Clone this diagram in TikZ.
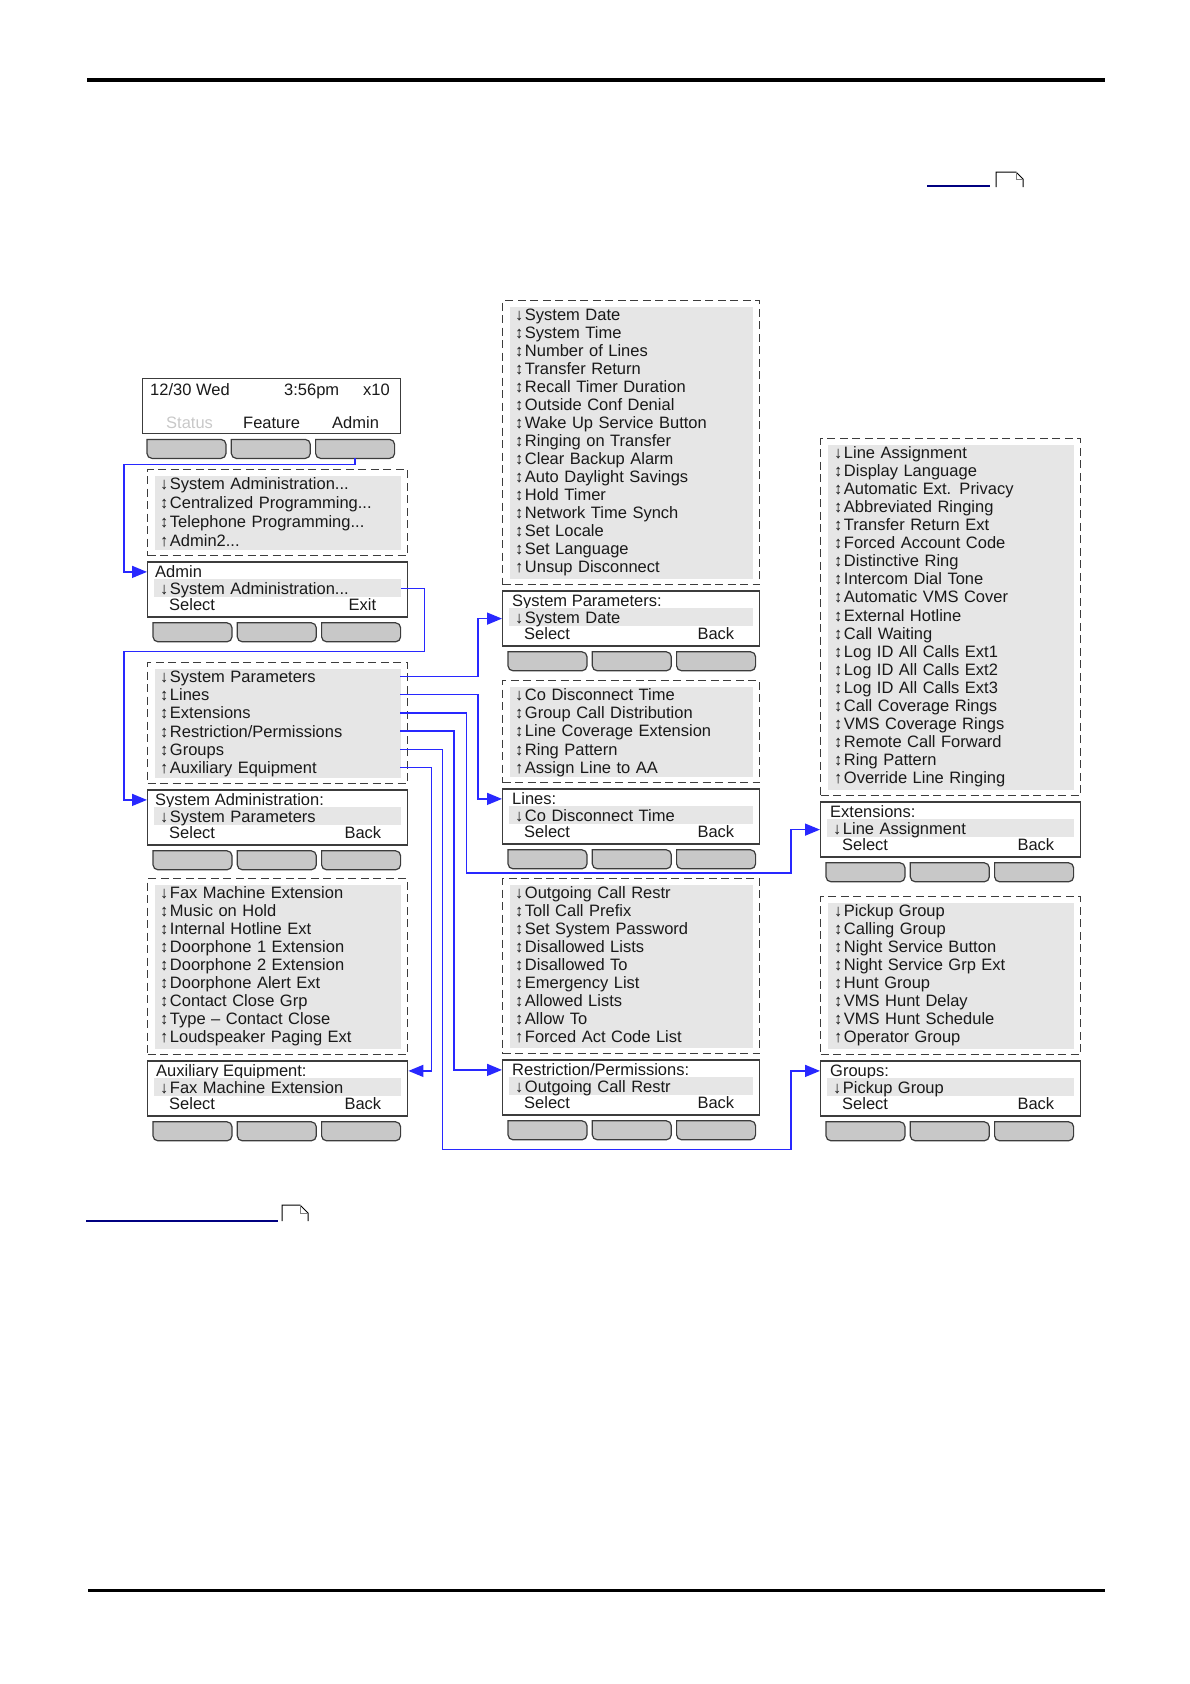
\documentclass[tikz,border=0pt]{standalone}
\usepackage{fontspec}
\setmainfont{Liberation Sans}
\usepackage{xcolor}
\usetikzlibrary{arrows.meta,positioning,calc}

\definecolor{menugray}{RGB}{230,230,230}
\definecolor{keygray}{RGB}{200,200,200}
\definecolor{framec}{RGB}{60,60,60}
\definecolor{linkblue}{RGB}{40,40,255}
\definecolor{inkc}{RGB}{25,25,25}
\definecolor{dimtext}{RGB}{200,200,200}
\definecolor{navyline}{RGB}{0,0,128}
\newcommand{\menufont}{\fontsize{16.5}{18}\selectfont}
\newcommand{\trail}{...}
\newcommand{\dn}{↓\kern1.5pt}
\newcommand{\ud}{↕\kern1.5pt}
\newcommand{\up}{↑\kern1.5pt}

\begin{document}
\begin{tikzpicture}[
    x=1pt, y=-1pt,
    menubox/.style={
        draw=framec, line width=1.4pt,
        dash pattern=on 8pt off 4.5pt,
        inner sep=0pt, anchor=north west,
        path picture={\fill[menugray]
            ([shift={(7pt,-6pt)}]path picture bounding box.north west) rectangle
            ([shift={(-7pt,6pt)}]path picture bounding box.south east);}
    },
    dispbox/.style={
        draw=framec, line width=1.4pt,
        inner sep=0pt, minimum height=55pt
    },
    rowtext/.style={
        anchor=west, inner sep=0pt,
        text height=12pt, text depth=0pt,
        text width=240pt, align=left,
        text=inkc, font=\menufont
    },
    selrow/.style={
        fill=menugray, anchor=west,
        inner xsep=6pt, inner ysep=0pt,
        minimum height=18pt,
        text height=12pt, text depth=0pt,
        text width=235pt, align=left,
        text=inkc, font=\menufont
    },
    lbl/.style={inner sep=0pt, text height=12pt, text depth=0pt, text=inkc, font=\menufont},
    softkey/.style={draw=framec, fill=keygray, line width=1.2pt},
    link/.style={draw=linkblue, line width=1.5pt, -{Triangle[length=15pt,width=12pt]}},
]
\useasboundingbox (0,0) rectangle (1190,1684);

% page rules and links
\draw[line width=3.5pt] (87,80) -- (1105,80);
\draw[line width=3pt] (88,1590) -- (1105,1590);
\draw[navyline, line width=1.2pt] (927,186) -- (990,186);
\draw[line width=1pt] (996,187) -- (996,172) -- (1016,172) -- (1023,179) -- (1023,187);
\draw[gray, line width=0.6pt] (1016,172) -- (1016,179) -- (1023,179);
\draw[navyline, line width=1.2pt] (86,1221) -- (278,1221);
\draw[line width=1pt] (282,1221) -- (282,1205) -- (300,1205) -- (308,1213) -- (308,1221);
\draw[gray, line width=0.6pt] (300,1205) -- (300,1213) -- (308,1213);

% idle phone display
\node[dispbox, minimum width=258pt, anchor=north west] (phone) at (142,378) {};
\node[lbl, anchor=west] (pdate) at ($(phone.north west)+(8,11)$) {12/30 Wed};
\node[lbl, anchor=west] (ptime) at ($(phone.north west)+(142,11)$) {3:56pm};
\node[lbl, anchor=west] (pext) at ($(phone.north west)+(221,11)$) {x10};
\node[lbl, anchor=west, text=dimtext] (pstatus) at ($(phone.north west)+(24,44)$) {Status};
\node[lbl, anchor=west] (pfeature) at ($(phone.north west)+(101,44)$) {Feature};
\node[lbl, anchor=west] (padmin) at ($(phone.north west)+(190,44)$) {Admin};

% menus
\node[menubox, minimum width=260pt, minimum height=86pt] (admmenu) at (147,469) {};
\node[menubox, minimum width=260pt, minimum height=121pt] (samenu) at (147,662) {};
\node[menubox, minimum width=260pt, minimum height=176pt] (auxmenu) at (147,878) {};
\node[menubox, minimum width=257pt, minimum height=284pt] (spmenu) at (502,300) {};
\node[menubox, minimum width=257pt, minimum height=102pt] (lnmenu) at (502,680) {};
\node[menubox, minimum width=257pt, minimum height=175pt] (rpmenu) at (502,878) {};
\node[menubox, minimum width=260pt, minimum height=357pt] (exmenu) at (820,438) {};
\node[menubox, minimum width=260pt, minimum height=158pt] (grmenu) at (820,896) {};

\foreach \t [count=\i] in {\dn System Administration\trail, \ud Centralized Programming\trail,
    \ud Telephone Programming\trail, \up Admin2\trail}
    \node[rowtext] (am-\i) at ($(admmenu.north west)+(13,{14.5+19*(\i-1)})$) {\t};
\foreach \t [count=\i] in {\dn System Parameters, \ud Lines, \ud Extensions,
    \ud Restriction/Permissions, \ud Groups, \up Auxiliary Equipment}
    \node[rowtext] (sa-\i) at ($(samenu.north west)+(13,{14.5+18.2*(\i-1)})$) {\t};
\foreach \t [count=\i] in {\dn Fax Machine Extension, \ud Music on Hold, \ud Internal Hotline Ext,
    \ud Doorphone 1 Extension, \ud Doorphone 2 Extension, \ud Doorphone Alert Ext,
    \ud Contact Close Grp, \ud Type – Contact Close, \up Loudspeaker Paging Ext}
    \node[rowtext] (ax-\i) at ($(auxmenu.north west)+(13,{14.5+18*(\i-1)})$) {\t};
\foreach \t [count=\i] in {\dn System Date, \ud System Time, \ud Number of Lines, \ud Transfer Return,
    \ud Recall Timer Duration, \ud Outside Conf Denial, \ud Wake Up Service Button,
    \ud Ringing on Transfer, \ud Clear Backup Alarm, \ud Auto Daylight Savings, \ud Hold Timer,
    \ud Network Time Synch, \ud Set Locale, \ud Set Language, \up Unsup Disconnect}
    \node[rowtext] (sp-\i) at ($(spmenu.north west)+(13,{14.5+18*(\i-1)})$) {\t};
\foreach \t [count=\i] in {\dn Co Disconnect Time, \ud Group Call Distribution,
    \ud Line Coverage Extension, \ud Ring Pattern, \up Assign Line to AA}
    \node[rowtext] (ln-\i) at ($(lnmenu.north west)+(13,{14.5+18.2*(\i-1)})$) {\t};
\foreach \t [count=\i] in {\dn Outgoing Call Restr, \ud Toll Call Prefix, \ud Set System Password,
    \ud Disallowed Lists, \ud Disallowed To, \ud Emergency List, \ud Allowed Lists, \ud Allow To,
    \up Forced Act Code List}
    \node[rowtext] (rp-\i) at ($(rpmenu.north west)+(13,{14.5+18*(\i-1)})$) {\t};
\foreach \t [count=\i] in {\dn Line Assignment, \ud Display Language, \ud Automatic Ext. Privacy,
    \ud Abbreviated Ringing, \ud Transfer Return Ext, \ud Forced Account Code, \ud Distinctive Ring,
    \ud Intercom Dial Tone, \ud Automatic VMS Cover, \ud External Hotline, \ud Call Waiting,
    \ud Log ID All Calls Ext1, \ud Log ID All Calls Ext2, \ud Log ID All Calls Ext3,
    \ud Call Coverage Rings, \ud VMS Coverage Rings, \ud Remote Call Forward, \ud Ring Pattern,
    \up Override Line Ringing}
    \node[rowtext] (ex-\i) at ($(exmenu.north west)+(14,{14.5+18.06*(\i-1)})$) {\t};
\foreach \t [count=\i] in {\dn Pickup Group, \ud Calling Group, \ud Night Service Button,
    \ud Night Service Grp Ext, \ud Hunt Group, \ud VMS Hunt Delay, \ud VMS Hunt Schedule,
    \up Operator Group}
    \node[rowtext] (gr-\i) at ($(grmenu.north west)+(14,{14.5+18*(\i-1)})$) {\t};

% display screens under the menus
\node[dispbox, minimum width=260pt, below right=5pt and 0pt of admmenu.south west] (admbox) {};
\node[lbl, anchor=west] (admtitle) at ($(admbox.north west)+(8,10.5)$) {Admin};
\node[selrow] (admsel) at ($(admbox.north west)+(7,27)$) {\dn System Administration\trail};
\node[lbl, anchor=west] (admok) at ($(admbox.north west)+(22,43.5)$) {Select};
\node[lbl, anchor=east] (admexit) at ($(admbox.north east)+(-32,43.5)$) {Exit};

\node[dispbox, minimum width=260pt, below right=5pt and 0pt of samenu.south west] (sabox) {};
\node[lbl, anchor=west] (satitle) at ($(sabox.north west)+(8,10.5)$) {System Administration:};
\node[selrow] (sasel) at ($(sabox.north west)+(7,27)$) {\dn System Parameters};
\node[lbl, anchor=west] (saok) at ($(sabox.north west)+(22,43.5)$) {Select};
\node[lbl, anchor=east] (saback) at ($(sabox.north east)+(-27,43.5)$) {Back};

\node[dispbox, minimum width=260pt, below right=5pt and 0pt of auxmenu.south west] (auxbox) {};
\node[lbl, anchor=west] (auxtitle) at ($(auxbox.north west)+(9,10.5)$) {Auxiliary Equipment:};
\node[selrow] (auxsel) at ($(auxbox.north west)+(7,27)$) {\dn Fax Machine Extension};
\node[lbl, anchor=west] (auxok) at ($(auxbox.north west)+(22,43.5)$) {Select};
\node[lbl, anchor=east] (auxback) at ($(auxbox.north east)+(-27,43.5)$) {Back};

\node[dispbox, minimum width=257pt, below right=5pt and 0pt of spmenu.south west] (spbox) {};
\node[lbl, anchor=west] (sptitle) at ($(spbox.north west)+(10,10.5)$) {System Parameters:};
\node[selrow, text width=232pt] (spsel) at ($(spbox.north west)+(7,27)$) {\dn System Date};
\node[lbl, anchor=west] (spok) at ($(spbox.north west)+(22,43.5)$) {Select};
\node[lbl, anchor=east] (spback) at ($(spbox.north east)+(-26,43.5)$) {Back};

\node[dispbox, minimum width=257pt, below right=5pt and 0pt of lnmenu.south west] (lnbox) {};
\node[lbl, anchor=west] (lntitle) at ($(lnbox.north west)+(10,10.5)$) {Lines:};
\node[selrow, text width=232pt] (lnsel) at ($(lnbox.north west)+(7,27)$) {\dn Co Disconnect Time};
\node[lbl, anchor=west] (lnok) at ($(lnbox.north west)+(22,43.5)$) {Select};
\node[lbl, anchor=east] (lnback) at ($(lnbox.north east)+(-26,43.5)$) {Back};

\node[dispbox, minimum width=257pt, below right=5pt and 0pt of rpmenu.south west] (rpbox) {};
\node[lbl, anchor=west] (rptitle) at ($(rpbox.north west)+(10,10.5)$) {Restriction/Permissions:};
\node[selrow, text width=232pt] (rpsel) at ($(rpbox.north west)+(7,27)$) {\dn Outgoing Call Restr};
\node[lbl, anchor=west] (rpok) at ($(rpbox.north west)+(22,43.5)$) {Select};
\node[lbl, anchor=east] (rpback) at ($(rpbox.north east)+(-26,43.5)$) {Back};

\node[dispbox, minimum width=260pt, below right=5pt and 0pt of exmenu.south west] (exbox) {};
\node[lbl, anchor=west] (extitle) at ($(exbox.north west)+(10,10.5)$) {Extensions:};
\node[selrow] (exsel) at ($(exbox.north west)+(7,27)$) {\dn Line Assignment};
\node[lbl, anchor=west] (exok) at ($(exbox.north west)+(22,43.5)$) {Select};
\node[lbl, anchor=east] (exback) at ($(exbox.north east)+(-27,43.5)$) {Back};

\node[dispbox, minimum width=260pt, below right=5pt and 0pt of grmenu.south west] (grbox) {};
\node[lbl, anchor=west] (grtitle) at ($(grbox.north west)+(10,10.5)$) {Groups:};
\node[selrow] (grsel) at ($(grbox.north west)+(7,27)$) {\dn Pickup Group};
\node[lbl, anchor=west] (grok) at ($(grbox.north west)+(22,43.5)$) {Select};
\node[lbl, anchor=east] (grback) at ($(grbox.north east)+(-27,43.5)$) {Back};

% soft keys
\foreach \b/\dx in {phone/5, admbox/6, sabox/6, auxbox/6, spbox/6, lnbox/6, rpbox/6, exbox/6, grbox/6}
    \foreach \j in {0,1,2}
        \draw[softkey] ($(\b.south west)+({\dx+84.3*\j},5)$) [rounded corners=5pt]
            -- ++(0,19) -- ++(79,0) -- ++(0,-19) [sharp corners] -- cycle;
\coordinate (pk3) at ($(phone.south west)+(213,24)$);
\coordinate (rail) at (124,0);

% menu links
\draw[link] (pk3) -- ++(0,6) -| (rail |- admtitle) -- (admbox.west |- admtitle);
\draw[link] (admsel.east) -| ++(23,63) -| (rail |- satitle) -- (sabox.west |- satitle);
\draw[link] (sa-1.east) -| ($(spbox.west)+(-24,0)$) -- (spbox.west);
\draw[link] (sa-2.east) -| ($(lnbox.west |- lntitle)+(-24,0)$) -- (lnbox.west |- lntitle);
\draw[link] (sa-3.east) -| ++(66,160) -| ($(exbox.west)+(-29,0)$) -- (exbox.west);
\draw[link] (sa-4.east) -| ($(rpbox.west |- rptitle)+(-48,0)$) -- (rpbox.west |- rptitle);
\draw[link] (sa-5.east) -| ++(42,400) -| ($(grbox.west |- grtitle)+(-29,0)$) -- (grbox.west |- grtitle);
\draw[link] (sa-6.east) -| ($(auxbox.east |- auxtitle)+(23,0)$) -- (auxbox.east |- auxtitle);

\end{tikzpicture}
\end{document}
